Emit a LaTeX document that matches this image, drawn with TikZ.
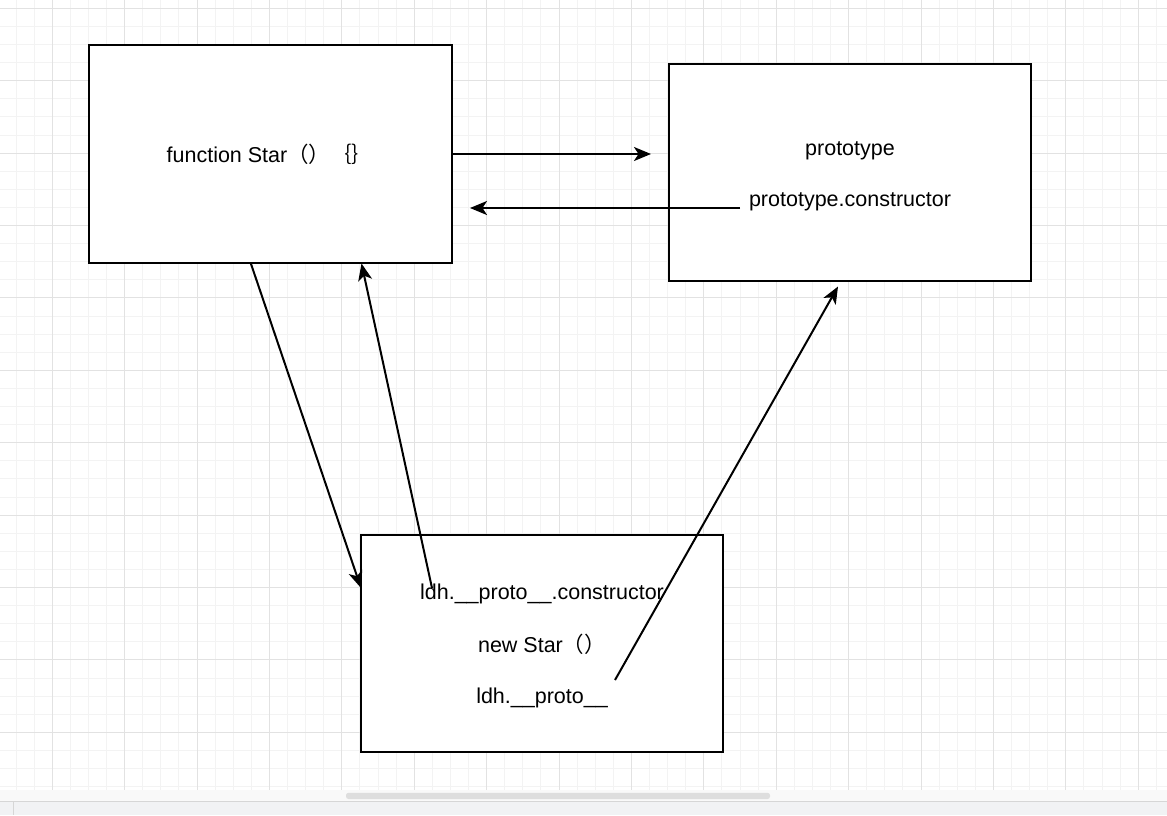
\documentclass[tikz,border=0pt]{standalone}
\usepackage{fontspec}
\setmainfont{Liberation Sans}
\newfontfamily\cjk{Noto Sans CJK SC}
\usetikzlibrary{arrows.meta}
\definecolor{gridminor}{HTML}{F3F3F3}
\definecolor{gridmajor}{HTML}{E2E2E2}
\definecolor{barbg}{HTML}{F9F9F9}
\definecolor{thumb}{HTML}{DEDEDE}
\definecolor{barline}{HTML}{D6D6D6}
\definecolor{footbg}{HTML}{F1F2F4}
\begin{document}
\begin{tikzpicture}[x=1pt,y=-1pt,
  box/.style={draw, line width=2pt, fill=white, minimum width=362.5pt, minimum height=217.5pt, inner sep=0pt},
  lbl/.style={font=\fontsize{21.5}{26}\selectfont, inner sep=0pt, anchor=base},
  conn/.style={line width=2pt, -{Stealth[length=17pt,width=14pt,inset=4.5pt]}},
  minorline/.style={draw=gridminor, line width=1pt},
  majorline/.style={draw=gridmajor, line width=1pt}]
\useasboundingbox (0,0) rectangle (1167,815);
\fill[white] (0,0) rectangle (1167,815);
% grid
\foreach \i in {0,...,63} \draw[minorline] ({16+18.1*\i},0) -- ({16+18.1*\i},790);
\foreach \i in {0,...,43} \draw[minorline] (0,{8.3+18.1*\i}) -- (1167,{8.3+18.1*\i});
\foreach \i in {0,...,15} \draw[majorline] ({52.2+72.4*\i},0) -- ({52.2+72.4*\i},790);
\foreach \i in {0,...,10} \draw[majorline] (0,{8.3+72.4*\i}) -- (1167,{8.3+72.4*\i});
% bottom bar
\fill[barbg] (0,790) rectangle (1167,801);
\fill[thumb, rounded corners=2.5pt] (346,792.8) rectangle (770,799);
\fill[footbg] (0,801.5) rectangle (1167,815);
\draw[barline, line width=1pt] (0,801.5) -- (1167,801.5);
\draw[barline, line width=1pt] (13.5,801.5) -- (13.5,815);
% boxes
\node[box] (A) at (270.5,154) {};
\node[box] (B) at (850,172.5) {};
\node[box] (C) at (542,643.5) {};
% labels
\node[lbl] (fn) at (270,162) {function Star{\cjk （）｛｝}};
\node[lbl] (pt) at (850,155) {prototype};
\node[lbl] (pc) at (850,206.7) {prototype.constructor};
\node[lbl] (lc) at (542,599) {ldh.\_\_proto\_\_.constructor};
\node[lbl] (ns) at (542,652) {new Star{\cjk （）}};
\node[lbl] (lp) at (542,703) {ldh.\_\_proto\_\_};
% connector end points
\coordinate (a1e) at (651,154);
\coordinate (a2s) at (740,208);
\coordinate (a2e) at (470,208);
\coordinate (a3s) at (250.7,263);
\coordinate (a3e) at (361,588);
\coordinate (a4s) at (432,588);
\coordinate (a4e) at (361.5,263.5);
\coordinate (a5s) at (615,680);
\coordinate (a5e) at (838,286.5);
% connectors
\draw[conn] (A.east) -- (a1e);
\draw[conn] (a2s) -- (a2e);
\draw[conn] (a3s) -- (a3e);
\draw[conn] (a4s) -- (a4e);
\draw[conn] (a5s) -- (a5e);
\end{tikzpicture}
\end{document}
